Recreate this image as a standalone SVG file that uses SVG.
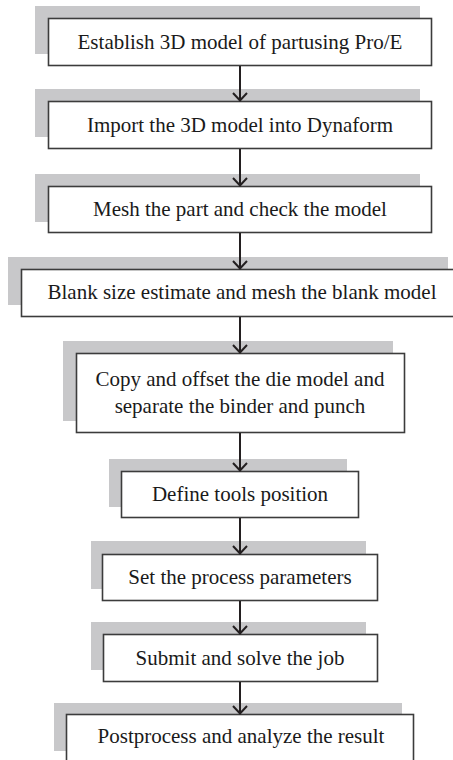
<svg xmlns="http://www.w3.org/2000/svg" width="453" height="760" viewBox="0 0 453 760">
<style>
.sh{fill:#c8c8ca;stroke:none}
.bx{fill:#ffffff;stroke:#3c3c3c;stroke-width:1.6}
.t{font-family:'Liberation Serif','Times New Roman',serif;font-size:21px;fill:#1a1a1a;text-anchor:middle}
.c{fill:none;stroke:#231f20;stroke-width:2}
</style>
<rect width="453" height="760" fill="#ffffff"/>
<g id="n1"><rect class="sh" x="35" y="6" width="385" height="48"/><rect class="bx" x="48.5" y="18.5" width="383" height="47"/><text class="t" x="240" y="49">Establish 3D model of partusing Pro/E</text></g>
<g id="n2"><rect class="sh" x="35" y="89" width="385" height="48"/><rect class="bx" x="48.5" y="101.5" width="383" height="47"/><text class="t" x="240" y="132">Import the 3D model into Dynaform</text></g>
<g id="n3"><rect class="sh" x="35" y="174" width="385" height="48"/><rect class="bx" x="48.5" y="186.5" width="383" height="46"/><text class="t" x="240" y="216">Mesh the part and check the model</text></g>
<g id="n4"><rect class="sh" x="8" y="257" width="440" height="48"/><rect class="bx" x="21.5" y="269.5" width="440" height="47"/><text class="t" x="242" y="299">Blank size estimate and mesh the blank model</text></g>
<g id="n5"><rect class="sh" x="63" y="341" width="330" height="80"/><rect class="bx" x="76.5" y="353.5" width="328" height="79"/><text class="t" x="240" y="386">Copy and offset the die model and</text><text class="t" x="240" y="413">separate the binder and punch</text></g>
<g id="n6"><rect class="sh" x="109" y="459" width="238" height="48"/><rect class="bx" x="121.5" y="471.5" width="237" height="46"/><text class="t" x="240" y="501">Define tools position</text></g>
<g id="n7"><rect class="sh" x="91" y="541" width="275" height="48"/><rect class="bx" x="102.5" y="554.5" width="275" height="46"/><text class="t" x="240" y="584">Set the process parameters</text></g>
<g id="n8"><rect class="sh" x="91" y="622" width="275" height="48"/><rect class="bx" x="103.5" y="634.5" width="274" height="47"/><text class="t" x="240" y="665">Submit and solve the job</text></g>
<g id="n9"><rect class="sh" x="54" y="703" width="348" height="48"/><rect class="bx" x="66.5" y="714.5" width="347" height="60"/><text class="t" x="241" y="743">Postprocess and analyze the result</text></g>
<g id="connectors">
<line class="c" x1="240" y1="66" x2="240" y2="100"/><polyline class="c" points="233,93 240,100.5 247,93"/>
<line class="c" x1="240" y1="149" x2="240" y2="185"/><polyline class="c" points="233,178 240,185.5 247,178"/>
<line class="c" x1="240" y1="233" x2="240" y2="268"/><polyline class="c" points="233,261 240,268.5 247,261"/>
<line class="c" x1="240" y1="317" x2="240" y2="352"/><polyline class="c" points="233,345 240,352.5 247,345"/>
<line class="c" x1="240" y1="433" x2="240" y2="470"/><polyline class="c" points="233,463 240,470.5 247,463"/>
<line class="c" x1="240" y1="518" x2="240" y2="553"/><polyline class="c" points="233,546 240,553.5 247,546"/>
<line class="c" x1="240" y1="601" x2="240" y2="633"/><polyline class="c" points="233,626 240,633.5 247,626"/>
<line class="c" x1="240" y1="682" x2="240" y2="713"/><polyline class="c" points="233,706 240,713.5 247,706"/>
</g>
</svg>
